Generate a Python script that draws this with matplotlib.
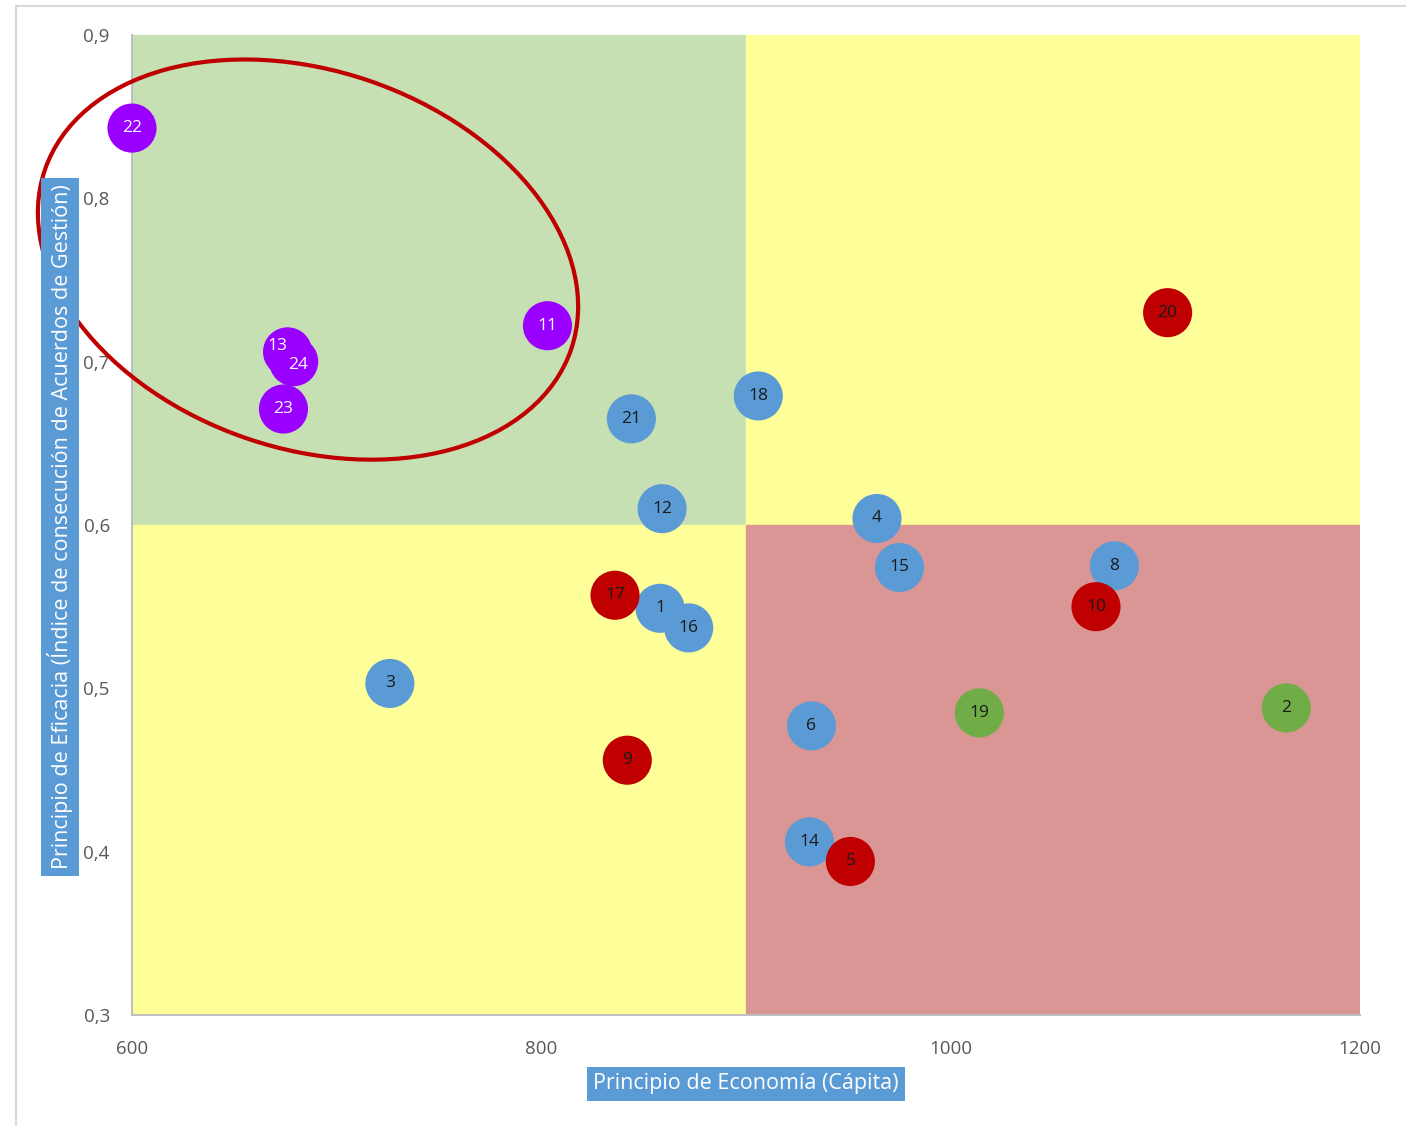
import matplotlib.pyplot as plt
from matplotlib.patches import Ellipse, Rectangle
from matplotlib.lines import Line2D
from matplotlib.transforms import IdentityTransform

plt.rcParams['font.family'] = ['Open Sans', 'DejaVu Sans']

# Hospital / unit ids and their position (economy, efficacy)
ids = [1, 2, 3, 4, 5, 6, 8, 9, 10, 11, 12, 13, 14, 15, 16, 17, 18, 19, 20, 21, 22, 23, 24]
economia = [858, 1164, 726, 964, 951, 932, 1080, 842, 1071, 803, 859, 676, 931, 975,
            872, 836, 906, 1014, 1106, 844, 600, 674, 679]
eficacia = [0.549, 0.488, 0.503, 0.604, 0.394, 0.477, 0.575, 0.456, 0.550, 0.722, 0.610,
            0.706, 0.406, 0.574, 0.537, 0.557, 0.679, 0.485, 0.730, 0.665, 0.843, 0.671, 0.700]
grupo = ['azul', 'verde', 'azul', 'azul', 'rojo', 'azul', 'azul', 'rojo', 'rojo', 'morado',
         'azul', 'morado', 'azul', 'azul', 'azul', 'rojo', 'azul', 'verde', 'rojo', 'azul',
         'morado', 'morado', 'morado']

x_ticks = [600, 800, 1000, 1200]
y_ticks = [0.3, 0.4, 0.5, 0.6, 0.7, 0.8, 0.9]
corte_x = 900
corte_y = 0.6

colores = {'azul': '#5B9BD5', 'verde': '#70AD47', 'rojo': '#C00000', 'morado': '#9900FF'}
texto_color = {'azul': '#1a1a1a', 'verde': '#1a1a1a', 'rojo': '#1a1a1a', 'morado': 'white'}
# labels that Excel moved away from the bubble centre (pixels)
desplaz = {13: (-10, 6), 24: (4, -3)}

W, H = 1406, 1126
fig = plt.figure(figsize=(W / 100, H / 100), dpi=100)
ax = fig.add_axes([132 / W, 1 - 1015 / H, 1228 / W, (1015 - 35) / H])
ax.set_xlim(600, 1200)
ax.set_ylim(0.3, 0.9)

# quadrants
ax.add_patch(Rectangle((600, corte_y), corte_x - 600, 0.9 - corte_y, color='#C6E0B4', zorder=0))
ax.add_patch(Rectangle((corte_x, corte_y), 1200 - corte_x, 0.9 - corte_y, color='#FFFF99', zorder=0))
ax.add_patch(Rectangle((600, 0.3), corte_x - 600, corte_y - 0.3, color='#FFFF99', zorder=0))
ax.add_patch(Rectangle((corte_x, 0.3), 1200 - corte_x, corte_y - 0.3, color='#DA9694', zorder=0))

for g in ['azul', 'verde', 'rojo', 'morado']:
    xs = [economia[i] for i in range(len(ids)) if grupo[i] == g]
    ys = [eficacia[i] for i in range(len(ids)) if grupo[i] == g]
    ax.scatter(xs, ys, s=1250, color=colores[g], edgecolors='none', zorder=3, clip_on=False)

for i, n in enumerate(ids):
    dx, dy = desplaz.get(n, (0, 0))
    ax.annotate(str(n), (economia[i], eficacia[i]), xytext=(dx * 0.72, dy * 0.72),
                textcoords='offset points', ha='center', va='center', fontsize=12.5,
                color=texto_color[grupo[i]], zorder=4)

ax.set_xticks(x_ticks)
ax.set_yticks(y_ticks)
ax.set_xticklabels([str(v) for v in x_ticks])
ax.set_yticklabels([f'{v:.1f}'.replace('.', ',') for v in y_ticks])
ax.tick_params(length=0, labelsize=13.5, colors='#595959')
ax.tick_params(axis='x', pad=18)
ax.tick_params(axis='y', pad=16)
for s in ['top', 'right']:
    ax.spines[s].set_visible(False)
for s in ['left', 'bottom']:
    ax.spines[s].set_color('#BFBFBF')
    ax.spines[s].set_linewidth(1.5)

# axis titles in blue boxes
caja = dict(boxstyle='square,pad=0.3', facecolor='#5B9BD5', edgecolor='none')
fig.text(746 / W, 1 - 1084 / H, 'Principio de Economía (Cápita)', ha='center', va='center',
         fontsize=15.5, color='white', bbox=caja)
fig.text(60 / W, 1 - 527 / H, 'Principio de Eficacia (Índice de consecución de Acuerdos de Gestión)',
         ha='center', va='center', rotation=90, fontsize=15.5, color='white', bbox=caja)

# red ellipse around the purple group
cx, cy = ax.transData.transform((686, 0.7625))
ax.add_patch(Ellipse((cx, cy), 556, 378, angle=-18.8, transform=IdentityTransform(),
                     fill=False, edgecolor='#C00000', linewidth=3, zorder=5, clip_on=False))

# light frame of the chart area
fig.add_artist(Line2D([16 / W, 1], [1 - 6 / H, 1 - 6 / H], color='#D9D9D9', lw=1.5))
fig.add_artist(Line2D([16 / W, 16 / W], [0, 1 - 6 / H], color='#D9D9D9', lw=1.5))

fig.savefig('out.png', dpi=100)
